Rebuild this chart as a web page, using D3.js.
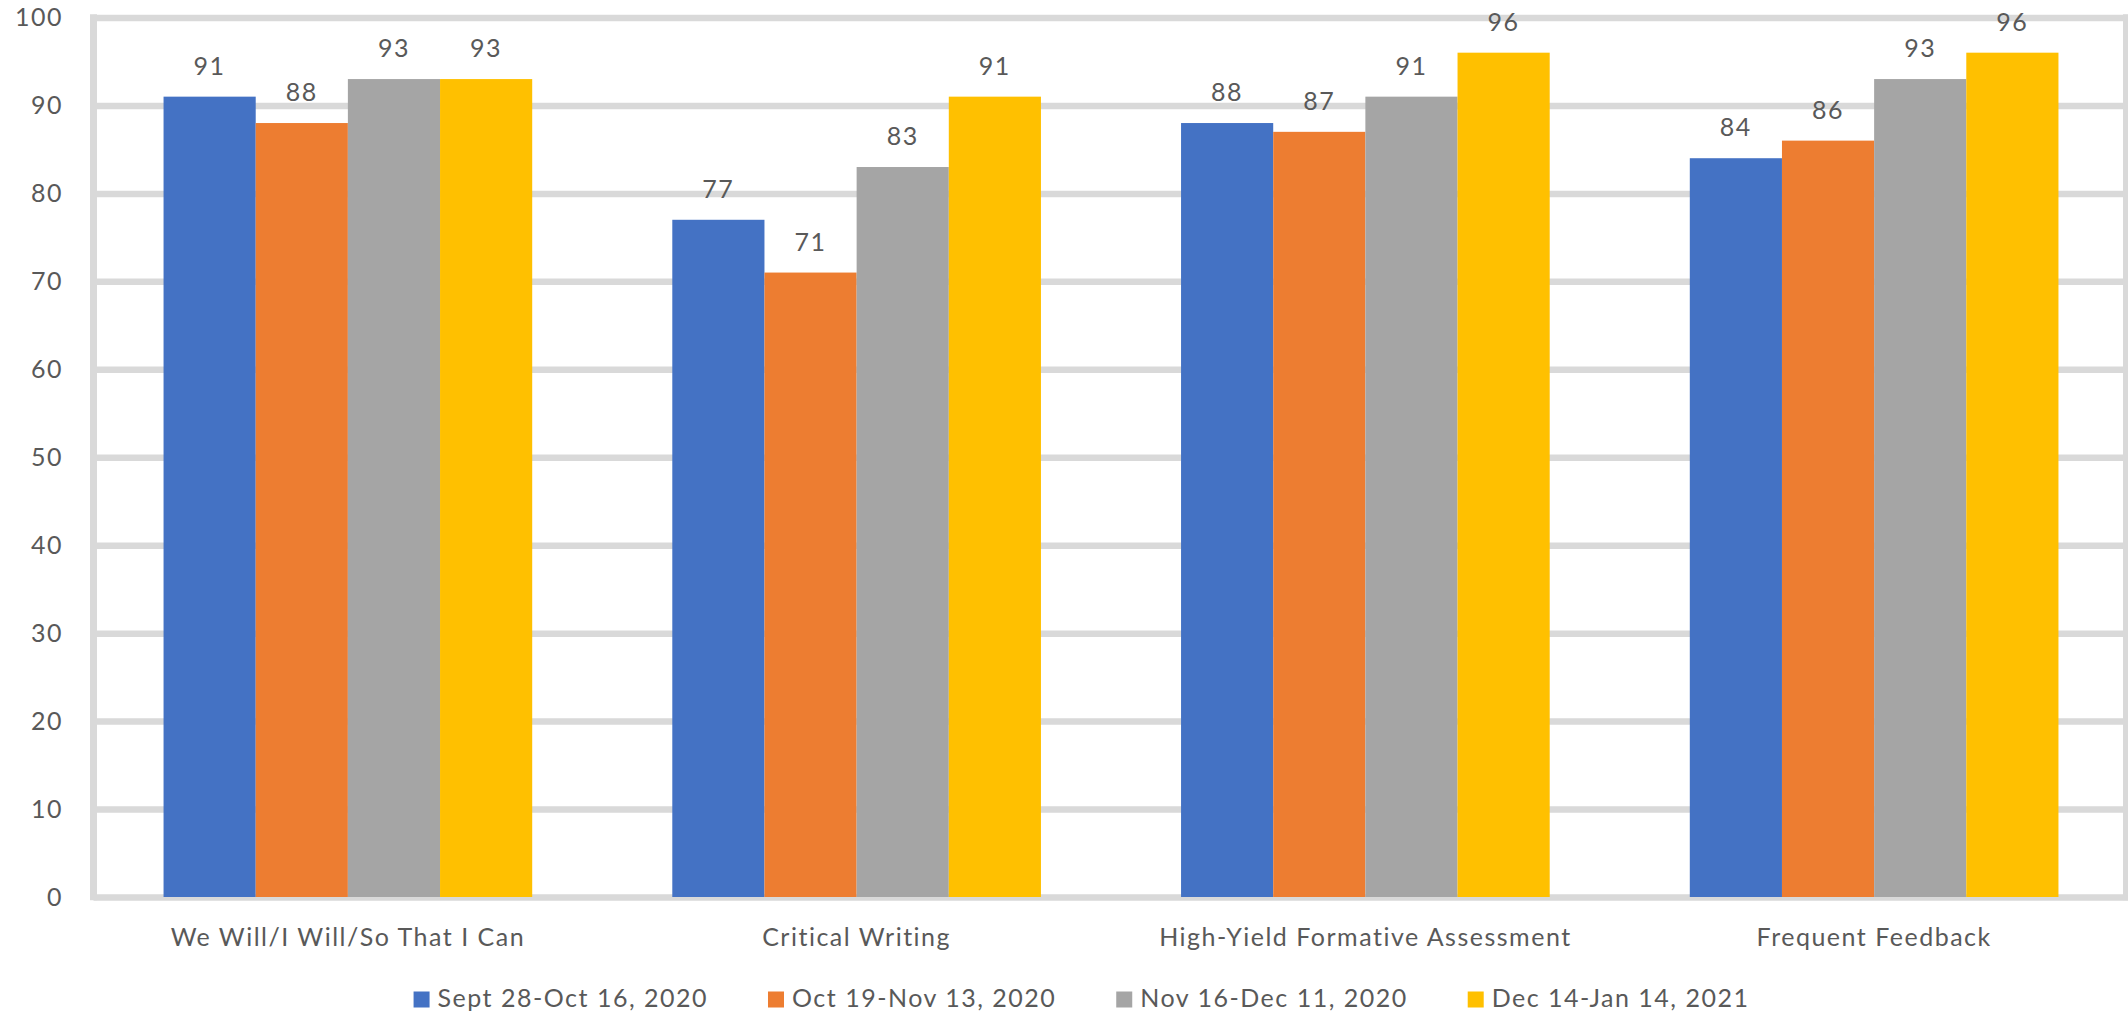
<!DOCTYPE html>
<html>
<head>
<meta charset="utf-8">
<script src="https://cdn.jsdelivr.net/npm/d3@7"></script>
<style>
  html, body { margin: 0; padding: 0; background: #fff; }
  svg { display: block; }
  text { font-family: Lato, "Open Sans", sans-serif; font-size: 25px; fill: #595959; letter-spacing: 1.5px; }
</style>
</head>
<body>
<svg id="chart" width="2128" height="1016"></svg>
<script>
// Practice categories along the x axis
const categories = [
  "We Will/I Will/So That I Can",
  "Critical Writing",
  "High-Yield Formative Assessment",
  "Frequent Feedback"
];

// Observation windows (legend entries) and their colours
const seriesNames = [
  "Sept 28-Oct 16, 2020",
  "Oct 19-Nov 13, 2020",
  "Nov 16-Dec 11, 2020",
  "Dec 14-Jan 14, 2021"
];
const seriesColors = ["#4472c4", "#ed7d31", "#a5a5a5", "#ffc000"];

// Percent implementation per category, one array per window
const septOct = [91, 77, 88, 84];
const octNov  = [88, 71, 87, 86];
const novDec  = [93, 83, 91, 93];
const decJan  = [93, 91, 96, 96];

// Value axis ticks
const yTicks = [0, 10, 20, 30, 40, 50, 60, 70, 80, 90, 100];

const seriesValues = [septOct, octNov, novDec, decJan];

const W = 2128, H = 1016;
const plotLeft = 93.5, plotRight = 2126.5;
const gridColor = "#d9d9d9";
const gridWidth = 6.5;

const svg = d3.select("#chart");

const y = d3.scaleLinear().domain([0, 100]).range([897, 17.5]);

const x0 = d3.scaleBand()
  .domain(categories)
  .range([plotLeft, 2128.5])
  .padding(0);

const x1 = d3.scaleBand()
  .domain(seriesNames)
  .range([0, x0.bandwidth()])
  .paddingInner(0)
  .paddingOuter(0.76);

// Horizontal gridlines with value labels
svg.append("g")
  .attr("transform", `translate(${plotLeft},0)`)
  .call(d3.axisLeft(y)
    .tickValues(yTicks)
    .tickFormat(d3.format("d"))
    .tickSize(-(W - plotLeft))
    .tickPadding(30.5))
  .call(g => g.select(".domain").remove())
  .call(g => g.selectAll(".tick line")
    .attr("stroke", gridColor)
    .attr("stroke-width", gridWidth));

// Plot frame: left and right edges
svg.append("g")
  .selectAll("line")
  .data([plotLeft, plotRight])
  .join("line")
  .attr("x1", d => d).attr("x2", d => d)
  .attr("y1", y(100) - gridWidth / 2)
  .attr("y2", y(0) + gridWidth / 2)
  .attr("stroke", gridColor)
  .attr("stroke-width", 7);

// Bars
const groups = svg.append("g")
  .selectAll("g")
  .data(categories)
  .join("g")
  .attr("transform", d => `translate(${x0(d)},0)`);

const cells = groups.selectAll("g")
  .data((c, ci) => seriesNames.map((s, si) => ({ s, si, v: seriesValues[si][ci] })))
  .join("g");

cells.append("rect")
  .attr("x", d => x1(d.s))
  .attr("y", d => y(d.v))
  .attr("width", x1.bandwidth())
  .attr("height", d => y(0) - y(d.v))
  .attr("fill", d => seriesColors[d.si]);

// Value labels above bars
cells.append("text")
  .attr("x", d => x1(d.s) + x1.bandwidth() / 2)
  .attr("y", d => y(d.v) - 22)
  .attr("text-anchor", "middle")
  .text(d => d.v);

// Category labels
svg.append("g")
  .attr("transform", `translate(0,${y(0)})`)
  .call(d3.axisBottom(x0).tickSize(0).tickPadding(31))
  .call(g => g.select(".domain").remove());

// Legend, centred under the chart
const legend = svg.append("g");
const items = legend.selectAll("g")
  .data(seriesNames)
  .join("g");

items.append("rect")
  .attr("width", 16)
  .attr("height", 16)
  .attr("y", 991.5)
  .attr("fill", (d, i) => seriesColors[i]);

items.append("text")
  .attr("x", 24)
  .attr("y", 1007)
  .text(d => d);

let cursor = 0;
items.each(function () {
  const t = d3.select(this).select("text").node().getComputedTextLength();
  d3.select(this).attr("data-w", 24 + t);
});
const widths = items.nodes().map(n => +n.getAttribute("data-w"));
const gap = 60;
const total = d3.sum(widths) + gap * (widths.length - 1);
let start = 1081.5 - total / 2;
items.attr("transform", (d, i) => {
  const tx = start;
  start += widths[i] + gap;
  return `translate(${tx},0)`;
});
</script>
</body>
</html>
